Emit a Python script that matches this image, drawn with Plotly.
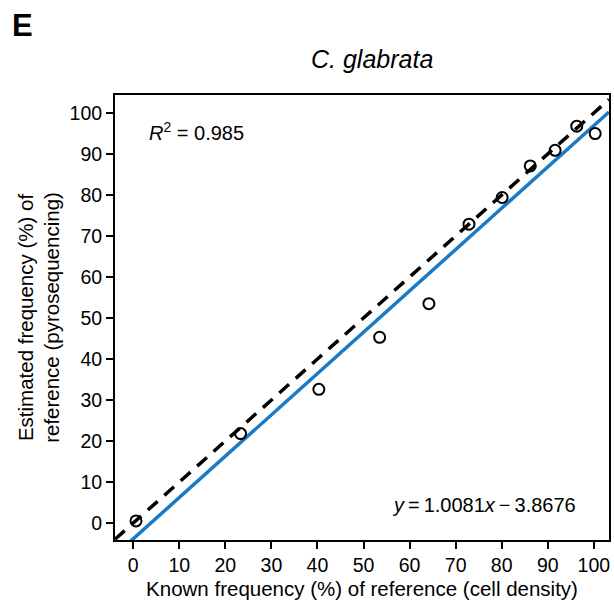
import plotly.graph_objects as go

# Known vs. estimated reference frequency (%) for C. glabrata
known = [0.6, 23.3, 40.3, 53.5, 64.2, 72.9, 80.1, 86.2, 91.6, 96.3, 100.3]
estimated = [0.5, 21.8, 32.6, 45.3, 53.5, 72.9, 79.4, 87.1, 90.9, 96.8, 95.0]

# Linear fit reported on the panel
slope = 1.0081
intercept = -3.8676
r_squared = 0.985

x_range = [-3.96, 103.3]
y_range = [-4.15, 104.4]
tick_vals = list(range(0, 101, 10))

fit_y = [slope * x + intercept for x in x_range]

FONT = "Liberation Sans, Arial, sans-serif"
BLUE = "#1a7ac4"

# plot-area geometry in pixels (used to place the header texts)
L, R, T, B = 115, 3, 95, 69
W, H = 614, 609
PW, PH = W - L - R, H - T - B

fig = go.Figure()

# identity line y = x
fig.add_trace(go.Scatter(
    x=x_range, y=x_range, mode="lines",
    line=dict(color="black", width=3.5, dash="13px,9px"),
    hoverinfo="skip", showlegend=False,
))

# regression line
fig.add_trace(go.Scatter(
    x=x_range, y=fit_y, mode="lines",
    line=dict(color=BLUE, width=3.5),
    hoverinfo="skip", showlegend=False,
))

# measurements
fig.add_trace(go.Scatter(
    x=known, y=estimated, mode="markers",
    marker=dict(symbol="circle-open", size=11, color="black",
                line=dict(width=2, color="black")),
    showlegend=False,
))

axis_common = dict(
    showline=True, linecolor="black", linewidth=2, mirror=True,
    ticks="outside", ticklen=7, tickwidth=2, tickcolor="black",
    showgrid=False, zeroline=False,
    tickfont=dict(family=FONT, size=19.5, color="black"),
    tickvals=tick_vals,
)

fig.update_layout(
    width=W, height=H,
    margin=dict(l=L, r=R, t=T, b=B),
    paper_bgcolor="white", plot_bgcolor="white",
    xaxis=dict(range=x_range,
               title=dict(text="Known frequency (%) of reference (cell density)",
                          font=dict(family=FONT, size=20.5, color="black"),
                          standoff=6),
               **axis_common),
    yaxis=dict(range=y_range,
               title=dict(text="Estimated frequency (%) of<br>reference (pyrosequencing)",
                          font=dict(family=FONT, size=20.5, color="black"),
                          standoff=4),
               **axis_common),
    annotations=[
        dict(text="<b>E</b>", xref="paper", yref="paper",
             x=(10 - L) / PW, y=1 + (T - 25) / PH,
             xanchor="left", yanchor="middle", showarrow=False,
             font=dict(family=FONT, size=31, color="black")),
        dict(text="<i>C. glabrata</i>", xref="paper", yref="paper",
             x=(373 - L) / PW, y=1 + (T - 59) / PH,
             xanchor="center", yanchor="middle", showarrow=False,
             font=dict(family=FONT, size=25, color="black")),
        dict(text="<i>R</i><sup>2</sup> = %.3f" % r_squared,
             x=3.0, y=95.6, xref="x", yref="y", xanchor="left", yanchor="middle",
             showarrow=False, font=dict(family=FONT, size=20, color="black")),
        dict(text="<i>y</i>\u2009=\u20091.0081<i>x</i>\u2009\u2212\u20093.8676",
             x=96.5, y=4.4, xref="x", yref="y", xanchor="right", yanchor="middle",
             showarrow=False, font=dict(family=FONT, size=20, color="black")),
    ],
)

fig.write_html("out.html")
